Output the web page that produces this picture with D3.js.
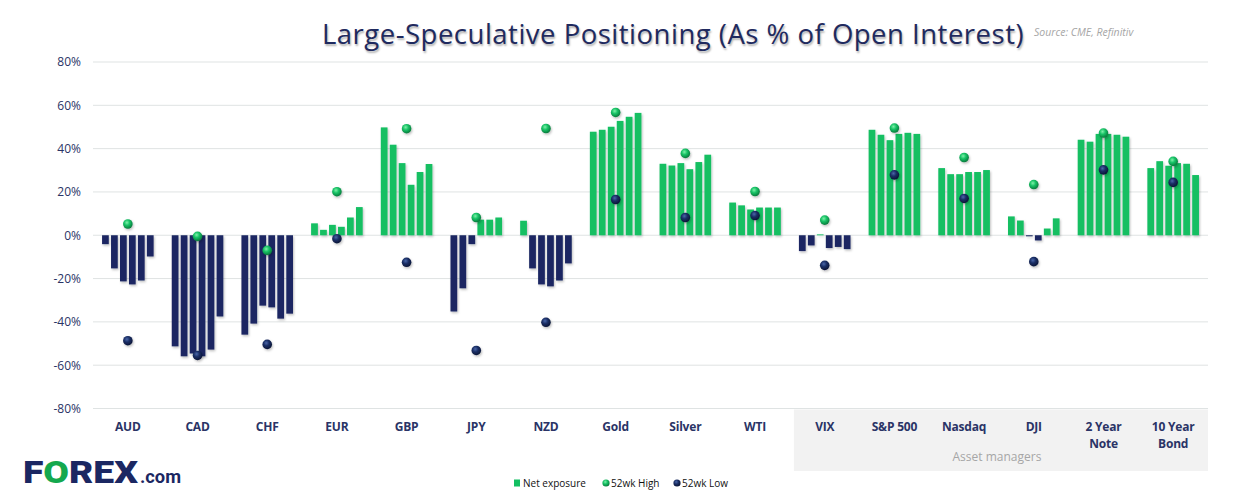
<!DOCTYPE html>
<html><head><meta charset="utf-8">
<script src="https://cdn.jsdelivr.net/npm/d3@7"></script>
<style>
html,body{margin:0;padding:0;background:#fff;}
svg{display:block;font-family:"Open Sans","Noto Sans",sans-serif;}
</style></head>
<body><svg id="c" width="1247" height="503"></svg>
<script>
const categories = ["AUD","CAD","CHF","EUR","GBP","JPY","NZD","Gold","Silver","WTI","VIX","S&P 500","Nasdaq","DJI","2 Year Note","10 Year Bond"];
const week1 = [-4.1,-51.3,-45.9, 5.5,49.8,-35.2,  6.7,47.8,33.0,15.1,-7.3,48.7,31.0, 8.7,44.1,31.0];
const week2 = [-15.3,-55.9,-40.8,2.5,41.8,-24.5,-15.3,48.7,32.2,13.8,-4.7,46.4,28.2, 6.8,43.2,34.2];
const week3 = [-21.3,-54.6,-32.5,4.8,33.3,-4.1,-22.7,50.1,33.3,11.9, 0.4,43.9,28.2,-0.5,46.8,32.1];
const week4 = [-22.7,-55.9,-33.3,3.9,23.3, 7.2,-23.6,52.8,30.5,12.8,-5.9,46.8,29.2,-2.4,46.8,33.3];
const week5 = [-20.9,-52.8,-38.5,8.2,29.2, 7.2,-20.9,54.7,33.8,12.8,-5.4,47.3,29.2, 3.1,46.4,33.0];
const week6 = [-9.8,-37.5,-36.2,13.0,32.9, 8.2,-13.0,56.5,37.2,12.8,-6.4,46.8,30.1, 7.8,45.5,27.8];
const high52 = [5.2,-0.5,-7.0,20.1,49.2,8.2,49.3,56.7,37.8,20.2,7.0,49.5,35.9,23.4,47.2,34.1];
const low52  = [-48.7,-55.5,-50.4,-1.6,-12.5,-53.2,-40.2,16.5,8.2,9.1,-13.9,27.9,17.0,-12.2,30.2,24.4];
const yTicks = [-80,-60,-40,-20,0,20,40,60,80];
const assetManagers = ["VIX","S&P 500","Nasdaq","DJI","2 Year Note","10 Year Bond"];
const weeks = [week1,week2,week3,week4,week5,week6];

const GREEN = "#13bf62", NAVY = "#1b2762", TEXT = "#2a3466";
const svg = d3.select("#c");
const defs = svg.append("defs");
const sh = defs.append("filter").attr("id","shadow").attr("x","-50%").attr("y","-50%").attr("width","200%").attr("height","200%");
sh.append("feDropShadow").attr("dx",1).attr("dy",1.5).attr("stdDeviation",1).attr("flood-color","#000").attr("flood-opacity",0.25);
function grad(id, light, mid, dark){
  const g = defs.append("radialGradient").attr("id",id).attr("cx","40%").attr("cy","35%").attr("r","65%");
  g.append("stop").attr("offset","0%").attr("stop-color",light);
  g.append("stop").attr("offset","45%").attr("stop-color",mid);
  g.append("stop").attr("offset","100%").attr("stop-color",dark);
}
grad("gHigh","#7ef0a8","#16c265","#0a7a3c");
grad("gLow","#4a66a8","#1b2f66","#0b1536");

const x = d3.scaleBand().domain(categories).range([93,1208]).padding(0);
const y = d3.scaleLinear().domain([-80,80]).range([408.5,62]);
const xi = d3.scaleBand().domain(d3.range(6)).range([x.bandwidth()*0.13, x.bandwidth()*0.87]).paddingInner(0.25);

// asset managers background
const amX0 = x(assetManagers[0]) + 4, amX1 = x(assetManagers[assetManagers.length-1]) + x.bandwidth();
svg.append("rect").attr("x",amX0).attr("y",y(-80)+1).attr("width",amX1-amX0).attr("height",61.5).attr("fill","#f2f2f2");
svg.append("text").attr("x",(amX0+amX1)/2 - 4).attr("y",461).attr("text-anchor","middle")
  .attr("font-size",12).attr("fill","#a6a6a6").text("Asset managers");

// grid
svg.append("g").selectAll("line").data(yTicks).join("line")
  .attr("x1",93).attr("x2",1208).attr("y1",d=>y(d)).attr("y2",d=>y(d))
  .attr("stroke","#dfe3e3").attr("stroke-width",1);

// y axis
const ya = svg.append("g").attr("transform","translate(93,0)")
  .call(d3.axisLeft(y).tickValues(yTicks).tickFormat(d=>d+"%").tickSize(0).tickPadding(12));
ya.select(".domain").remove();
ya.selectAll("text").attr("font-size",12).attr("fill",TEXT).attr("font-family","Open Sans, sans-serif");

// bars
const barData = [];
categories.forEach((c,i)=>weeks.forEach((w,j)=>barData.push({c,j,v:w[i]})));
svg.append("g").attr("filter","url(#shadow)").selectAll("rect").data(barData).join("rect")
  .attr("x",d=>x(d.c)+xi(d.j)).attr("width",xi.bandwidth())
  .attr("y",d=>y(Math.max(0,d.v))).attr("height",d=>Math.abs(y(d.v)-y(0)))
  .attr("fill",d=>d.v>=0?GREEN:NAVY);

// dots
const dots = svg.append("g").attr("filter","url(#shadow)");
dots.selectAll("circle.h").data(categories).join("circle").attr("class","h")
  .attr("cx",d=>x(d)+x.bandwidth()/2).attr("cy",(d,i)=>y(high52[i])).attr("r",4.8).attr("fill","url(#gHigh)");
dots.selectAll("circle.l").data(categories).join("circle").attr("class","l")
  .attr("cx",d=>x(d)+x.bandwidth()/2).attr("cy",(d,i)=>y(low52[i])).attr("r",4.8).attr("fill","url(#gLow)");

// category labels
const lab = svg.append("g");
categories.forEach(c=>{
  const parts = c.match(/^(\d+ Year) (.+)$/);
  const lines = parts ? [parts[1],parts[2]] : [c];
  const t = lab.append("text").attr("x",x(c)+x.bandwidth()/2).attr("y",431).attr("text-anchor","middle")
    .attr("font-size",12).attr("font-weight",700).attr("fill",TEXT).attr("letter-spacing","-0.2");
  lines.forEach((l,k)=>t.append("tspan").attr("x",x(c)+x.bandwidth()/2).attr("dy",k?16.5:0).text(l));
});

// title
svg.append("text").attr("x",673).attr("y",44).attr("text-anchor","middle")
  .attr("font-size",27.5).attr("fill","#1f2a5e").attr("letter-spacing","0.5")
  .style("text-shadow","1px 2px 2px rgba(0,0,0,0.3)")
  .text("Large-Speculative Positioning (As % of Open Interest)");
svg.append("text").attr("x",1034).attr("y",36).attr("font-size",10.5).attr("font-style","italic")
  .attr("fill","#a6a6a6").text("Source: CME, Refinitiv");

// legend
const lg = svg.append("g").attr("font-size",10).attr("fill","#111");
lg.append("rect").attr("x",514).attr("y",479.5).attr("width",6).attr("height",7).attr("fill",GREEN);
lg.append("text").attr("x",523).attr("y",487).text("Net exposure");
lg.append("circle").attr("cx",606).attr("cy",483).attr("r",3.6).attr("fill","url(#gHigh)");
lg.append("text").attr("x",611).attr("y",487).text("52wk High");
lg.append("circle").attr("cx",677).attr("cy",483).attr("r",3.6).attr("fill","url(#gLow)");
lg.append("text").attr("x",682).attr("y",487).text("52wk Low");

// logo
const logo = svg.append("text").attr("x",23).attr("y",483).attr("font-family","Roboto, Liberation Sans, sans-serif")
  .attr("font-weight",900).attr("font-size",32).attr("textLength",115).attr("lengthAdjust","spacingAndGlyphs");
logo.append("tspan").attr("fill","#1b2762").text("F");
logo.append("tspan").attr("fill","#14a84e").text("O");
logo.append("tspan").attr("fill","#1b2762").text("REX");
svg.append("text").attr("x",140).attr("y",483).attr("font-family","Roboto, Liberation Sans, sans-serif")
  .attr("font-weight",700).attr("font-size",19).attr("fill","#1b2762")
  .attr("textLength",41).attr("lengthAdjust","spacingAndGlyphs").text(".com");
</script></body></html>
